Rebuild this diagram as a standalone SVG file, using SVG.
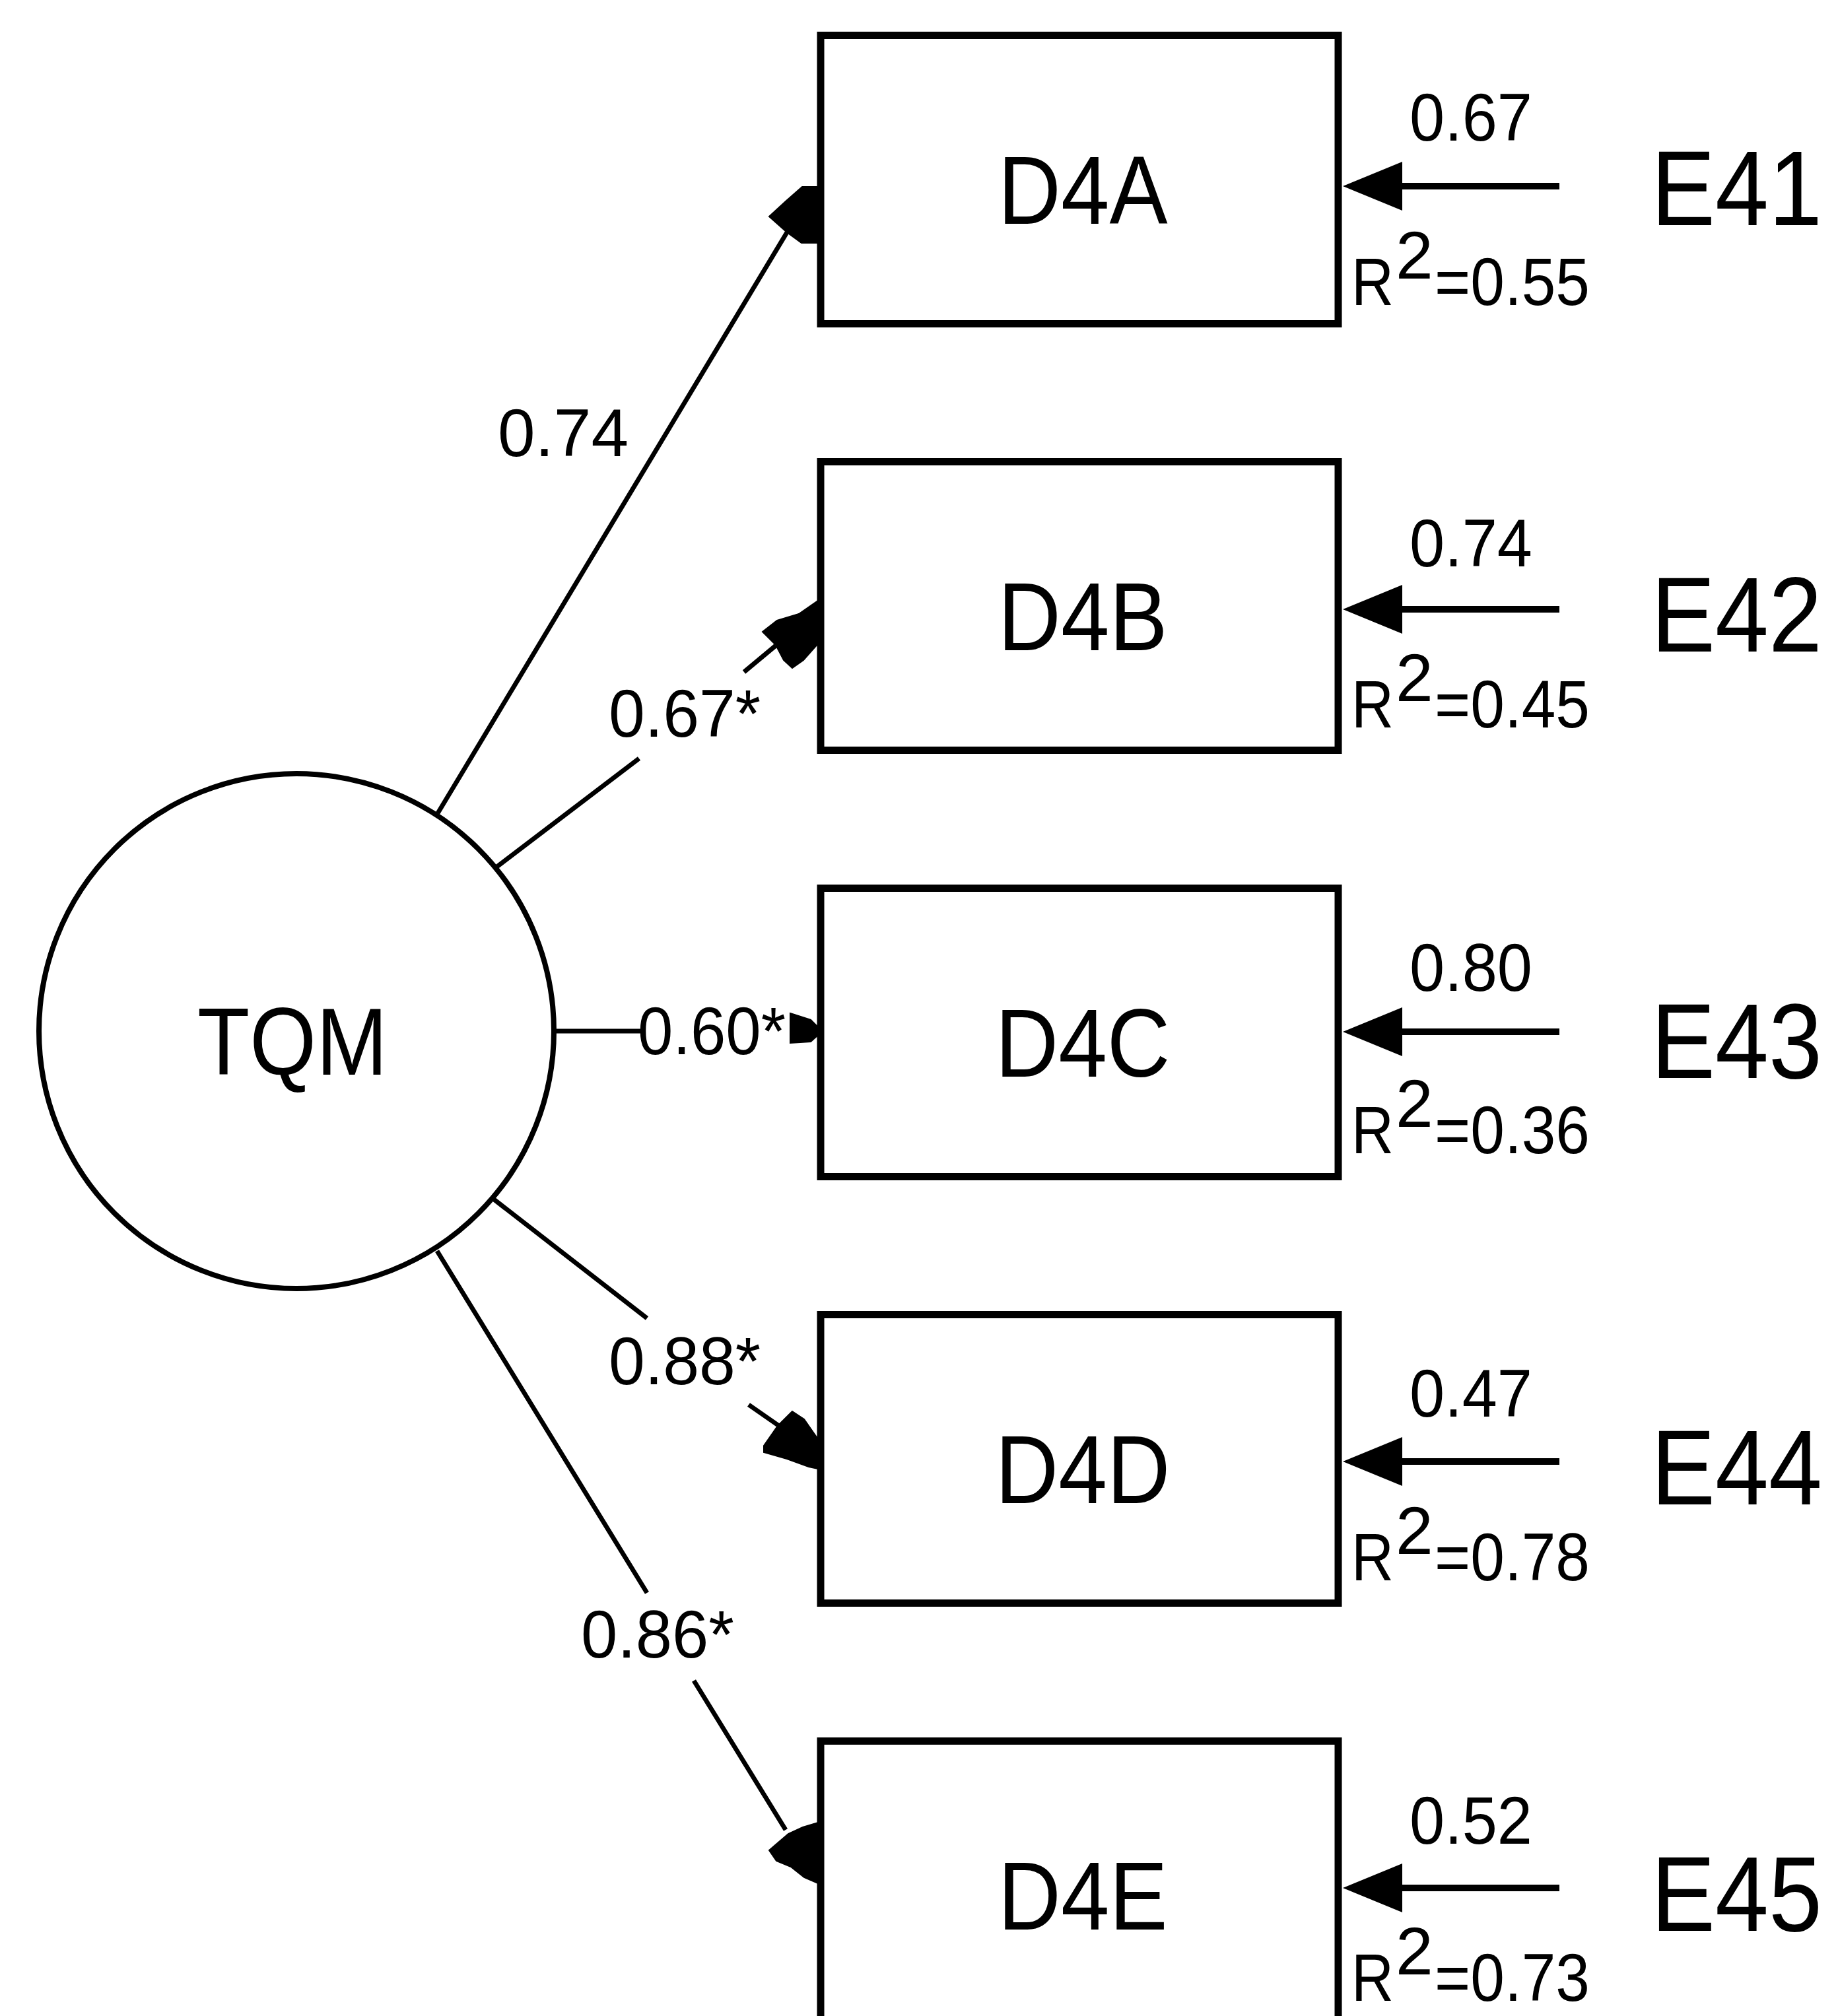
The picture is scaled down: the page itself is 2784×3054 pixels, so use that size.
<svg xmlns="http://www.w3.org/2000/svg" width="2784" height="3054" viewBox="0 0 2784 3054">
<style>
text{font-family:"Liberation Sans",Arial,sans-serif;fill:#000}
.box{fill:#fff;stroke:#000;stroke-width:11}
.lat{fill:#fff;stroke:#000;stroke-width:8}
.edge{fill:none;stroke:#000;stroke-width:7}
.err{fill:none;stroke:#000;stroke-width:10}
.head{fill:#000;stroke:#000;stroke-width:2}
.big{font-size:147px}
.ename{font-size:162px}
.small{font-size:102px}
</style>
<defs>
<marker id="ah" viewBox="0 0 90 74" refX="0" refY="37" markerWidth="90" markerHeight="74" markerUnits="userSpaceOnUse" orient="auto">
<path d="M0,0 L90,37 L0,74 z" fill="#000"/>
</marker>
</defs>
<rect width="2784" height="3054" fill="#fff"/>

<g id="connectors">
<path class="edge" d="M663,1232 L1192,352"/>
<polygon class="head" points="1165,328 1190,305 1215,283 1239,283 1239,368 1214,368 1192,352"/>
<path class="edge" d="M750,1315 L968,1149 M1127,1018 L1175,978"/>
<polygon class="head" points="1155,957 1177,940 1210,930 1239,910 1239,975 1217,1000 1200,1012 1187,1000 1175,977"/>
<path class="edge" d="M841,1562 L970,1562"/>
<polygon class="head" points="1197,1535 1228,1545 1239,1556 1239,1568 1228,1578 1197,1580"/>
<path class="edge" d="M747,1816 L980,1997 M1134,2128 L1180,2160"/>
<polygon class="head" points="1200,2138 1218,2150 1232,2170 1239,2180 1239,2225 1225,2222 1192,2210 1157,2200 1157,2190 1178,2160"/>
<path class="edge" d="M662,1895 L980,2413 M1051,2546 L1190,2772"/>
<polygon class="head" points="1165,2803 1194,2778 1216,2768 1239,2761 1239,2853 1218,2844 1198,2828 1176,2819"/>
<text class="small" x="754" y="691" textLength="198" lengthAdjust="spacingAndGlyphs">0.74</text>
<text class="small" x="922" y="1116" textLength="230" lengthAdjust="spacingAndGlyphs">0.67*</text>
<text class="small" x="966" y="1597" textLength="224" lengthAdjust="spacingAndGlyphs">0.60*</text>
<text class="small" x="922" y="2097" textLength="230" lengthAdjust="spacingAndGlyphs">0.88*</text>
<text class="small" x="880" y="2511" textLength="232" lengthAdjust="spacingAndGlyphs">0.86*</text>

<line class="err" x1="2362" y1="282" x2="2124" y2="282" marker-end="url(#ah)"/>
<line class="err" x1="2362" y1="923" x2="2124" y2="923" marker-end="url(#ah)"/>
<line class="err" x1="2362" y1="1563" x2="2124" y2="1563" marker-end="url(#ah)"/>
<line class="err" x1="2362" y1="2214" x2="2124" y2="2214" marker-end="url(#ah)"/>
<line class="err" x1="2362" y1="2860" x2="2124" y2="2860" marker-end="url(#ah)"/>
<text class="small" x="2135" y="213" textLength="186" lengthAdjust="spacingAndGlyphs">0.67</text>
<text class="small" x="2135" y="858" textLength="186" lengthAdjust="spacingAndGlyphs">0.74</text>
<text class="small" x="2135" y="1501" textLength="186" lengthAdjust="spacingAndGlyphs">0.80</text>
<text class="small" x="2135" y="2146" textLength="186" lengthAdjust="spacingAndGlyphs">0.47</text>
<text class="small" x="2135" y="2793" textLength="186" lengthAdjust="spacingAndGlyphs">0.52</text>
</g>

<g id="TQM">
<circle class="lat" cx="449" cy="1562" r="390"/>
<text x="443" y="1628" text-anchor="middle" textLength="288" lengthAdjust="spacingAndGlyphs" style="font-size:144px">TQM</text>
</g>

<g id="D4A">
<rect class="box" x="1243" y="53.5" width="784" height="437"/>
<text class="big" x="1640" y="339" text-anchor="middle" textLength="257" lengthAdjust="spacingAndGlyphs">D4A</text>
<text class="small" x="2047" y="462" textLength="64" lengthAdjust="spacingAndGlyphs">R</text>
<text class="small" x="2114" y="422">2</text>
<text class="small" x="2173" y="462" textLength="235" lengthAdjust="spacingAndGlyphs">=0.55</text>
</g>
<g id="D4B">
<rect class="box" x="1243" y="699.5" width="784" height="437"/>
<text class="big" x="1640" y="985" text-anchor="middle" textLength="257" lengthAdjust="spacingAndGlyphs">D4B</text>
<text class="small" x="2047" y="1102" textLength="64" lengthAdjust="spacingAndGlyphs">R</text>
<text class="small" x="2114" y="1062">2</text>
<text class="small" x="2173" y="1102" textLength="235" lengthAdjust="spacingAndGlyphs">=0.45</text>
</g>
<g id="D4C">
<rect class="box" x="1243" y="1345.5" width="784" height="437"/>
<text class="big" x="1640" y="1631" text-anchor="middle" textLength="265" lengthAdjust="spacingAndGlyphs">D4C</text>
<text class="small" x="2047" y="1747" textLength="64" lengthAdjust="spacingAndGlyphs">R</text>
<text class="small" x="2114" y="1707">2</text>
<text class="small" x="2173" y="1747" textLength="235" lengthAdjust="spacingAndGlyphs">=0.36</text>
</g>
<g id="D4D">
<rect class="box" x="1243" y="1991.5" width="784" height="437"/>
<text class="big" x="1640" y="2277" text-anchor="middle" textLength="265" lengthAdjust="spacingAndGlyphs">D4D</text>
<text class="small" x="2047" y="2394" textLength="64" lengthAdjust="spacingAndGlyphs">R</text>
<text class="small" x="2114" y="2354">2</text>
<text class="small" x="2173" y="2394" textLength="235" lengthAdjust="spacingAndGlyphs">=0.78</text>
</g>
<g id="D4E">
<rect class="box" x="1243" y="2637.5" width="784" height="440"/>
<text class="big" x="1640" y="2923" text-anchor="middle" textLength="257" lengthAdjust="spacingAndGlyphs">D4E</text>
<text class="small" x="2047" y="3031" textLength="64" lengthAdjust="spacingAndGlyphs">R</text>
<text class="small" x="2114" y="2991">2</text>
<text class="small" x="2173" y="3031" textLength="235" lengthAdjust="spacingAndGlyphs">=0.73</text>
</g>

<g id="E41"><text class="ename" x="2501" y="341" textLength="259" lengthAdjust="spacingAndGlyphs">E41</text></g>
<g id="E42"><text class="ename" x="2501" y="987" textLength="259" lengthAdjust="spacingAndGlyphs">E42</text></g>
<g id="E43"><text class="ename" x="2501" y="1633" textLength="259" lengthAdjust="spacingAndGlyphs">E43</text></g>
<g id="E44"><text class="ename" x="2501" y="2279" textLength="259" lengthAdjust="spacingAndGlyphs">E44</text></g>
<g id="E45"><text class="ename" x="2501" y="2925" textLength="259" lengthAdjust="spacingAndGlyphs">E45</text></g>
</svg>
